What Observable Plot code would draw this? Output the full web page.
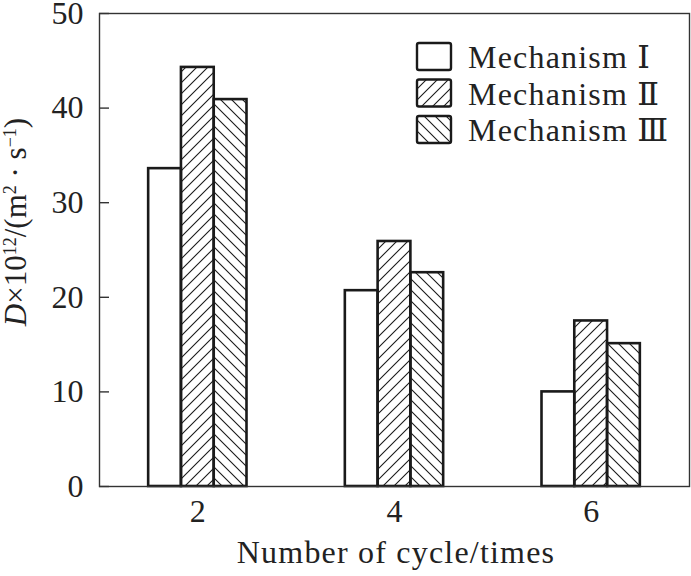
<!DOCTYPE html>
<html>
<head>
<meta charset="utf-8">
<script src="https://cdn.jsdelivr.net/npm/d3@7"></script>
<script src="https://cdn.jsdelivr.net/npm/@observablehq/plot@0.6"></script>
<style>
  html, body { margin: 0; padding: 0; background: #fff; }
  svg { font-family: "Liberation Serif", "DejaVu Serif", serif; }
</style>
</head>
<body>
<div id="chart"></div>
<script>
// ---- data ----
const cycles = [2, 4, 6];
const mechanisms = ["Mechanism Ⅰ", "Mechanism Ⅱ", "Mechanism Ⅲ"];
const mechI = [33.6, 20.7, 10.0];
const mechII = [44.3, 25.9, 17.5];
const mechIII = [40.9, 22.6, 15.1];
const yTicks = [0, 10, 20, 30, 40, 50];

const series = [mechI, mechII, mechIII];
const fills = ["white", "url(#hatchFwd)", "url(#hatchBack)"];
const rows = [];
series.forEach((vals, mi) => {
  vals.forEach((v, ci) => rows.push({cycle: cycles[ci], mech: mechanisms[mi], mi, value: v}));
});

const W = 691, H = 576;
const chart = Plot.plot({
  width: W,
  height: H,
  marginLeft: 99,
  marginRight: 2,
  marginTop: 13,
  marginBottom: 90,
  style: {fontFamily: '"Liberation Serif", "DejaVu Serif", serif', fontSize: "32px", color: "#222", background: "white", overflow: "visible"},
  x: {type: "linear", domain: [1, 7]},
  y: {domain: [0, 50]},
  color: {type: "ordinal", domain: mechanisms, range: fills},
  marks: [
    Plot.rectY(rows, {
      x1: d => d.cycle - 0.5 + d.mi / 3,
      x2: d => d.cycle - 0.5 + (d.mi + 1) / 3,
      y1: 0,
      y2: "value",
      fill: "mech",
      stroke: "#1a1a1a",
      strokeWidth: 2.6
    }),
    Plot.frame({stroke: "#333", strokeWidth: 1.4}),
    Plot.axisX({ticks: cycles, tickSize: 0, tickPadding: 13, tickFormat: d => String(d), label: null, fontSize: 32}),
    Plot.axisY({ticks: yTicks, tickSize: 0, tickPadding: 16, label: null, fontSize: 32}),
    Plot.axisY({ticks: yTicks, tickSize: -10, text: null, label: null, stroke: "#333", strokeWidth: 1.4})
  ]
});

const svg = d3.select(chart);
const defs = svg.insert("defs", ":first-child");
const t = 11;
const fwd = defs.append("pattern").attr("id", "hatchFwd").attr("patternUnits", "userSpaceOnUse")
  .attr("width", t).attr("height", t);
fwd.append("path").attr("d", `M0,${t} L${t},0 M-2,2 L2,-2 M${t-2},${t+2} L${t+2},${t-2}`)
  .attr("stroke", "#1a1a1a").attr("stroke-width", 1.1).attr("fill", "none");
const back = defs.append("pattern").attr("id", "hatchBack").attr("patternUnits", "userSpaceOnUse")
  .attr("width", t).attr("height", t);
back.append("path").attr("d", `M0,0 L${t},${t} M-2,${t-2} L2,${t+2} M${t-2},-2 L${t+2},2`)
  .attr("stroke", "#1a1a1a").attr("stroke-width", 1.1).attr("fill", "none");

// legend (layout only)
const lg = svg.append("g").attr("class", "legend");
mechanisms.forEach((m, i) => {
  const y0 = 43 + i * 36.5;
  lg.append("rect").attr("x", 417).attr("y", y0).attr("width", 34).attr("height", 27)
    .attr("rx", 2).attr("fill", fills[i]).attr("stroke", "#1a1a1a").attr("stroke-width", 2.4);
  lg.append("text").attr("x", 468).attr("y", y0 + 25).attr("font-size", 32)
    .attr("text-anchor", "start").attr("letter-spacing", 1.2)
    .attr("fill", "#222").text(m);
});

// x title
svg.append("text").attr("x", 396).attr("y", 563).attr("text-anchor", "middle")
  .attr("font-size", 32).attr("letter-spacing", 1.2).attr("fill", "#222").text("Number of cycle/times");

// y title with italic D and superscripts
const yt = svg.append("text").attr("transform", "translate(26,222) rotate(-90)")
  .attr("text-anchor", "middle").attr("font-size", 31).attr("fill", "#222");
yt.append("tspan").attr("font-style", "italic").text("D");
yt.append("tspan").text("×10");
yt.append("tspan").attr("font-size", 18).attr("dy", -10).text("12");
yt.append("tspan").attr("dy", 10).text("/(m");
yt.append("tspan").attr("font-size", 18).attr("dy", -10).text("2");
yt.append("tspan").attr("dy", 10).text(" · s");
yt.append("tspan").attr("font-size", 18).attr("dy", -10).text("−1");
yt.append("tspan").attr("dy", 10).text(")");

document.getElementById("chart").appendChild(chart);
</script>
</body>
</html>
